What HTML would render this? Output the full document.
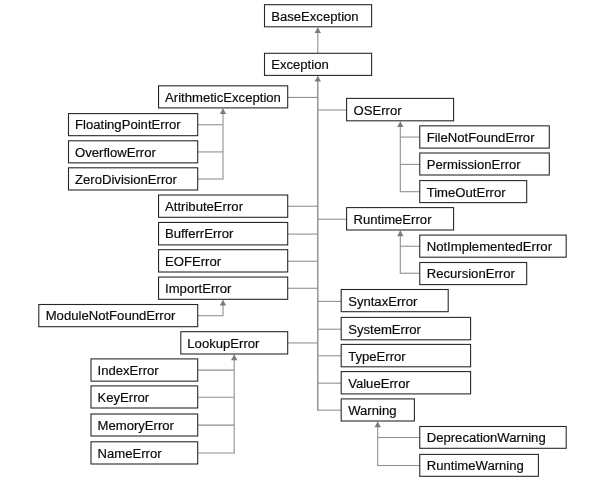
<!DOCTYPE html>
<html lang="en">
<head>
<meta charset="utf-8">
<title>Python Exception Hierarchy</title>
<style>
html,body{margin:0;padding:0;background:#fff;}
body{width:614px;height:478px;overflow:hidden;}
.wrap{width:614px;height:478px;will-change:transform;}
svg{display:block;filter:blur(0.28px);}
svg text{font-family:"Liberation Sans",Arial,Helvetica,sans-serif;font-size:13.12px;fill:#0a0a0a;stroke:#0a0a0a;stroke-width:0.18px;stroke-linejoin:round;}
.ln{stroke:#909090;stroke-width:1.1;fill:none;}
.ln .tk{stroke:#8a8a8a;stroke-width:1.35;}
.ah{fill:#7a7a7a;stroke:none;}
.bx{fill:#fff;stroke:#262626;stroke-width:1.08;}
</style>
</head>
<body>
<div class="wrap">
<svg width="614" height="478" viewBox="0 0 614 478">
<rect x="0" y="0" width="614" height="478" fill="#fff"/>
<g class="ln">
<line x1="317.80" y1="27.80" x2="317.80" y2="53.30"/>
<line class="tk" x1="317.80" y1="76.40" x2="317.80" y2="410.75"/>
<line x1="287.70" y1="97.45" x2="317.80" y2="97.45"/>
<line x1="287.70" y1="206.25" x2="317.80" y2="206.25"/>
<line x1="287.70" y1="234.08" x2="317.80" y2="234.08"/>
<line x1="287.70" y1="261.25" x2="317.80" y2="261.25"/>
<line x1="287.70" y1="288.28" x2="317.80" y2="288.28"/>
<line x1="287.70" y1="342.95" x2="317.80" y2="342.95"/>
<line x1="317.80" y1="110.00" x2="346.60" y2="110.00"/>
<line x1="317.80" y1="219.20" x2="346.60" y2="219.20"/>
<line x1="317.80" y1="301.40" x2="341.20" y2="301.40"/>
<line x1="317.80" y1="329.20" x2="341.20" y2="329.20"/>
<line x1="317.80" y1="355.80" x2="341.20" y2="355.80"/>
<line x1="317.80" y1="383.15" x2="341.20" y2="383.15"/>
<line x1="317.80" y1="410.15" x2="341.20" y2="410.15"/>
<line x1="223.00" y1="108.90" x2="223.00" y2="179.60"/>
<line x1="197.70" y1="124.75" x2="223.00" y2="124.75"/>
<line x1="197.70" y1="151.92" x2="223.00" y2="151.92"/>
<line x1="197.70" y1="179.00" x2="223.00" y2="179.00"/>
<line x1="223.00" y1="300.30" x2="223.00" y2="316.30"/>
<line x1="197.70" y1="315.70" x2="223.00" y2="315.70"/>
<line x1="234.20" y1="355.00" x2="234.20" y2="453.60"/>
<line x1="197.70" y1="370.12" x2="234.20" y2="370.12"/>
<line x1="197.70" y1="397.25" x2="234.20" y2="397.25"/>
<line x1="197.70" y1="425.10" x2="234.20" y2="425.10"/>
<line x1="197.70" y1="453.00" x2="234.20" y2="453.00"/>
<line x1="400.30" y1="121.80" x2="400.30" y2="192.30"/>
<line x1="400.30" y1="137.07" x2="419.75" y2="137.07"/>
<line x1="400.30" y1="164.40" x2="419.75" y2="164.40"/>
<line x1="400.30" y1="191.70" x2="419.75" y2="191.70"/>
<line x1="400.30" y1="231.00" x2="400.30" y2="273.85"/>
<line x1="400.30" y1="246.25" x2="419.75" y2="246.25"/>
<line x1="400.30" y1="273.25" x2="419.75" y2="273.25"/>
<line x1="377.70" y1="422.00" x2="377.70" y2="466.05"/>
<line x1="377.70" y1="437.50" x2="419.75" y2="437.50"/>
<line x1="377.70" y1="465.45" x2="419.75" y2="465.45"/>
</g>
<g class="ah">
<polygon points="317.80,27.40 314.60,33.00 321.00,33.00"/>
<polygon points="317.80,76.00 314.60,81.60 321.00,81.60"/>
<polygon points="223.00,108.50 219.80,114.10 226.20,114.10"/>
<polygon points="223.00,299.90 219.80,305.50 226.20,305.50"/>
<polygon points="234.20,354.60 231.00,360.20 237.40,360.20"/>
<polygon points="400.30,121.40 397.10,127.00 403.50,127.00"/>
<polygon points="400.30,230.60 397.10,236.20 403.50,236.20"/>
<polygon points="377.70,421.60 374.50,427.20 380.90,427.20"/>
</g>
<g>
<rect class="bx" x="264.50" y="4.70" width="107.10" height="22.10"/>
<rect class="bx" x="264.50" y="53.30" width="107.10" height="22.10"/>
<rect class="bx" x="158.55" y="85.80" width="129.15" height="22.10"/>
<rect class="bx" x="68.50" y="113.60" width="129.20" height="22.10"/>
<rect class="bx" x="68.50" y="140.80" width="129.20" height="22.05"/>
<rect class="bx" x="68.50" y="167.80" width="129.20" height="22.20"/>
<rect class="bx" x="158.55" y="195.00" width="129.15" height="22.30"/>
<rect class="bx" x="158.55" y="222.45" width="129.15" height="22.45"/>
<rect class="bx" x="158.55" y="249.70" width="129.15" height="22.30"/>
<rect class="bx" x="158.55" y="277.05" width="129.15" height="22.25"/>
<rect class="bx" x="38.80" y="304.50" width="158.90" height="22.20"/>
<rect class="bx" x="180.80" y="331.70" width="106.90" height="22.30"/>
<rect class="bx" x="91.00" y="358.90" width="106.70" height="22.25"/>
<rect class="bx" x="91.00" y="385.90" width="106.70" height="22.10"/>
<rect class="bx" x="91.00" y="414.00" width="106.70" height="22.00"/>
<rect class="bx" x="91.00" y="441.80" width="106.70" height="22.20"/>
<rect class="bx" x="346.60" y="98.40" width="107.00" height="22.40"/>
<rect class="bx" x="419.75" y="125.85" width="129.55" height="22.25"/>
<rect class="bx" x="419.75" y="153.00" width="129.55" height="22.00"/>
<rect class="bx" x="419.75" y="180.60" width="106.95" height="22.00"/>
<rect class="bx" x="346.60" y="207.60" width="107.00" height="22.40"/>
<rect class="bx" x="419.75" y="235.10" width="146.45" height="22.10"/>
<rect class="bx" x="419.75" y="262.50" width="106.95" height="22.10"/>
<rect class="bx" x="341.20" y="289.50" width="107.00" height="22.20"/>
<rect class="bx" x="341.20" y="317.40" width="129.40" height="22.40"/>
<rect class="bx" x="341.20" y="344.40" width="129.40" height="22.40"/>
<rect class="bx" x="341.20" y="371.60" width="129.40" height="22.30"/>
<rect class="bx" x="341.20" y="398.90" width="73.20" height="22.10"/>
<rect class="bx" x="419.75" y="426.50" width="146.45" height="21.80"/>
<rect class="bx" x="419.75" y="454.40" width="118.65" height="21.90"/>
</g>
<g>
<text x="271.20" y="20.50">BaseException</text>
<text x="271.20" y="69.10">Exception</text>
<text x="165.05" y="101.60">ArithmeticException</text>
<text x="75.00" y="129.40">FloatingPointError</text>
<text x="75.00" y="156.57">OverflowError</text>
<text x="75.00" y="183.65">ZeroDivisionError</text>
<text x="165.05" y="210.90">AttributeError</text>
<text x="165.05" y="238.43">BufferrError</text>
<text x="165.05" y="265.60">EOFError</text>
<text x="165.05" y="292.93">ImportError</text>
<text x="45.70" y="320.35">ModuleNotFoundError</text>
<text x="187.30" y="347.60">LookupError</text>
<text x="97.50" y="374.77">IndexError</text>
<text x="97.50" y="401.70">KeyError</text>
<text x="97.50" y="429.75">MemoryError</text>
<text x="97.50" y="457.65">NameError</text>
<text x="353.55" y="114.50">OSError</text>
<text x="426.70" y="141.88">FileNotFoundError</text>
<text x="426.70" y="168.90">PermissionError</text>
<text x="426.70" y="196.50">TimeOutError</text>
<text x="353.55" y="223.70">RuntimeError</text>
<text x="426.70" y="251.05">NotImplementedError</text>
<text x="426.70" y="278.45">RecursionError</text>
<text x="348.15" y="305.50">SyntaxError</text>
<text x="348.15" y="333.50">SystemError</text>
<text x="348.15" y="360.50">TypeError</text>
<text x="348.15" y="387.65">ValueError</text>
<text x="348.15" y="414.85">Warning</text>
<text x="426.70" y="442.30">DeprecationWarning</text>
<text x="426.70" y="470.25">RuntimeWarning</text>
</g>
</svg>
</div>
</body>
</html>
